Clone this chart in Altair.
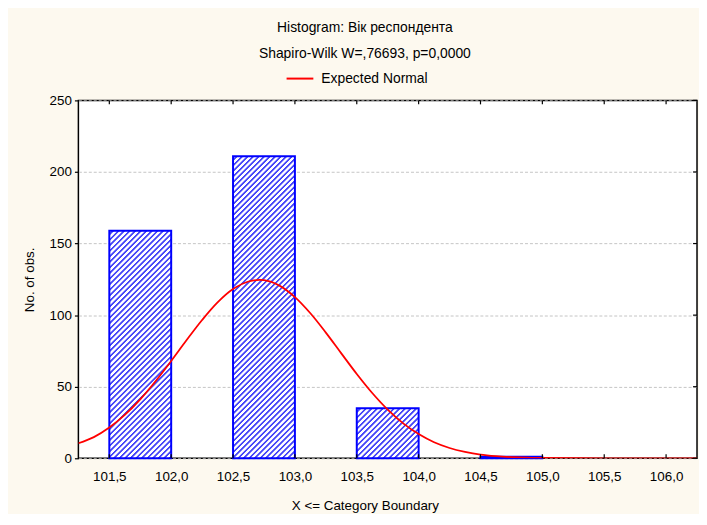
import altair as alt
import pandas as pd

# ---------------- data ----------------
bin_start = [101.5, 102.5, 103.5, 104.5]
bin_end = [102.0, 103.0, 104.0, 105.0]
counts = [159, 211, 35, 1]

curve_x = [101.25, 101.375, 101.5, 101.625, 101.75, 101.875, 102.0, 102.125, 102.25,
           102.375, 102.5, 102.625, 102.75, 102.875, 103.0, 103.125, 103.25, 103.375,
           103.5, 103.625, 103.75, 103.875, 104.0, 104.125, 104.25, 104.375, 104.5,
           104.625, 104.75, 104.875, 105.0, 105.5, 106.0, 106.25]
curve_y = [10.5, 14.8, 21.5, 30.3, 41.2, 54, 68, 82.6, 96.6, 108.9, 118.2, 123.5,
           124.4, 120.6, 112.6, 101.3, 87.8, 73.3, 58.9, 45.6, 34, 24.4, 16.9,
           11.2, 7.2, 4.5, 2.6, 1.5, 0.8, 0.4, 0.2, 0, 0, 0]

x_ticks = [101.5, 102.0, 102.5, 103.0, 103.5, 104.0, 104.5, 105.0, 105.5, 106.0]
y_ticks = [0, 50, 100, 150, 200, 250]

title_text = "Histogram: Вік респондента"
subtitle_text = "Shapiro-Wilk W=,76693, p=0,0000"
legend_label = "Expected Normal"
x_title = "X <= Category Boundary"
y_title = "No. of obs."

# ---------------- layout / style ----------------
W, H = 624, 361
X_DOM = [101.25, 106.25]
Y_DOM = [0, 250]
FONT = "Liberation Sans"
FS = 13.5
FT = 14
CX = 289  # horizontal centre of the title block, relative to plot left

bars = pd.DataFrame({"i": list(range(len(counts))), "start": bin_start,
                     "end": bin_end, "count": counts, "zero": [0] * len(counts)})
curve = pd.DataFrame({"x": curve_x, "y": curve_y})
xt = pd.DataFrame({"t": x_ticks})
yt = pd.DataFrame({"t": y_ticks})

xscale = alt.Scale(domain=X_DOM, nice=False, zero=False)
yscale = alt.Scale(domain=Y_DOM, nice=False)

xaxis = alt.Axis(
    values=x_ticks, ticks=False, domain=False, grid=False,
    labelExpr="replace(format(datum.value, '.1f'), '.', ',')",
    labelPadding=11, labelFont=FONT, labelFontSize=FS, labelColor="black",
    title=x_title, titleFont=FONT, titleFontSize=FS, titleFontWeight="normal",
    titleColor="black", titleX=CX, titleY=48, titleAnchor="middle",
    titleAlign="center", titleBaseline="middle")
yaxis = alt.Axis(
    values=y_ticks, tickSize=4, tickColor="black", tickWidth=1.2, domain=False,
    grid=True, gridDash=[3, 2], gridColor="#C4C4C4", gridWidth=1,
    labelPadding=3, labelFont=FONT, labelFontSize=FS, labelColor="black",
    title=y_title, titleFont=FONT, titleFontSize=FS, titleFontWeight="normal",
    titleColor="black", titleX=-49, titleY=H / 2, titleAngle=-90,
    titleAlign="center", titleBaseline="middle")


def hatch(w, h, period=5.6, color="#4747F8"):
    n = max(1, int(round((w + h) / period)))
    step = 1.0 / n
    stops = []
    for k in range(n):
        b = k * step
        stops += [
            {"offset": round(b, 6), "color": "#FFFFFF"},
            {"offset": round(b + step * 0.42, 6), "color": "#FFFFFF"},
            {"offset": round(b + step * 0.55, 6), "color": color},
            {"offset": round(b + step * 0.84, 6), "color": color},
        ]
    stops.append({"offset": 1, "color": "#FFFFFF"})
    c = (w + h) / (w * w + h * h)
    return {"gradient": "linear", "stops": stops,
            "x1": 0, "y1": 0, "x2": round(w * c, 6), "y2": round(h * c, 6)}


px_per_x = W / (X_DOM[1] - X_DOM[0])
px_per_y = H / (Y_DOM[1] - Y_DOM[0])

layers = []
for i in range(len(counts)):
    w = (bin_end[i] - bin_start[i]) * px_per_x
    h = max(counts[i] * px_per_y, 1.0)
    layers.append(
        alt.Chart(bars).transform_filter(alt.datum.i == i).mark_rect(
            fill=hatch(w, h), stroke="#0000FF", strokeWidth=2
        ).encode(
            x=alt.X("start:Q", scale=xscale, axis=xaxis),
            x2="end:Q",
            y=alt.Y("count:Q", scale=yscale, axis=yaxis),
            y2="zero:Q",
        )
    )

line = alt.Chart(curve).mark_line(
    color="#FF0000", strokeWidth=1.8, clip=True, interpolate="catmull-rom"
).encode(
    x=alt.X("x:Q", scale=xscale, axis=xaxis),
    y=alt.Y("y:Q", scale=yscale, axis=yaxis),
)
layers.append(line)

# inward ticks: bottom, top (x) and right (y)
tick_b = alt.Chart(xt).mark_rule(color="black", strokeWidth=1.2).encode(
    x=alt.X("t:Q", scale=xscale, axis=xaxis), y=alt.value(H), y2=alt.value(H - 4))
tick_t = alt.Chart(xt).mark_rule(color="black", strokeWidth=1.2).encode(
    x=alt.X("t:Q", scale=xscale, axis=xaxis), y=alt.value(0), y2=alt.value(4))
tick_r = alt.Chart(yt).mark_rule(color="black", strokeWidth=1.2).encode(
    y=alt.Y("t:Q", scale=yscale, axis=yaxis), x=alt.value(W), x2=alt.value(W - 4))
layers += [tick_b, tick_t, tick_r]

# titles and legend
txt = pd.DataFrame({"a": [title_text], "b": [subtitle_text], "c": [legend_label]})
t1 = alt.Chart(txt).mark_text(font=FONT, fontSize=FT, color="black", align="center",
                              baseline="middle").encode(
    text="a:N", x=alt.value(CX), y=alt.value(-73))
t2 = alt.Chart(txt).mark_text(font=FONT, fontSize=FT, color="black", align="center",
                              baseline="middle").encode(
    text="b:N", x=alt.value(CX), y=alt.value(-47))
t3 = alt.Chart(txt).mark_text(font=FONT, fontSize=FT, color="black", align="left",
                              baseline="middle").encode(
    text="c:N", x=alt.value(245), y=alt.value(-22))
leg = alt.Chart(txt).mark_rule(color="#FF0000", strokeWidth=2).encode(
    x=alt.value(210), x2=alt.value(237), y=alt.value(-22))
layers += [t1, t2, t3, leg]

chart = alt.layer(*layers).properties(
    width=W, height=H,
    background="#FDF9EF",
    autosize=alt.AutoSizeParams(type="none"),
    padding={"left": 71, "top": 91, "right": 2, "bottom": 54},
).configure_view(fill="white", stroke="black", strokeWidth=1.5)

chart.save("out.html", embed_options={"renderer": "svg", "actions": False})
